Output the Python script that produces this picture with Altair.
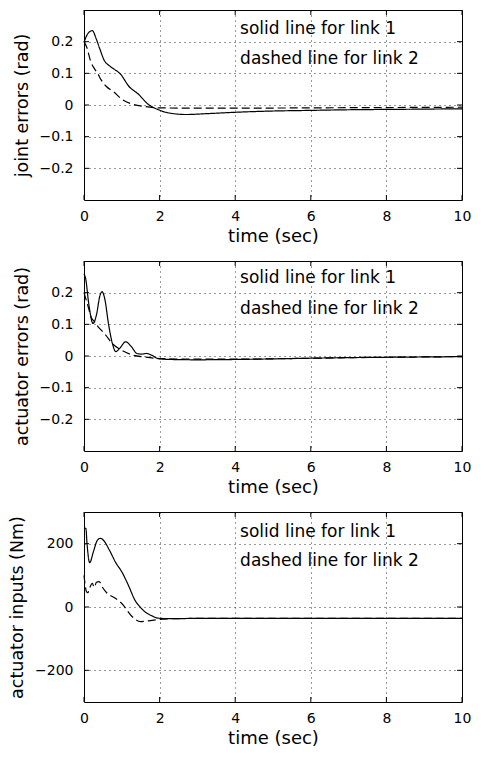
import altair as alt
import pandas as pd

# ---------------- data ----------------
t1_solid = [0, 0.1, 0.22, 0.32, 0.41, 0.54, 0.67, 0.8, 0.97, 1.18, 1.44, 1.7, 1.95, 2.2, 2.7, 3.3, 4.2, 5, 6, 7, 8, 9, 10]
v1_solid = [0.198, 0.225, 0.235, 0.21, 0.18, 0.14, 0.124, 0.113, 0.097, 0.06, 0.034, 0.002, -0.014, -0.024, -0.03,
            -0.027, -0.022, -0.019, -0.017, -0.015, -0.014, -0.013, -0.012]
t1_dash = [0, 0.08, 0.17, 0.28, 0.36, 0.45, 0.58, 0.8, 1.0, 1.27, 1.63, 2.0, 3, 4, 6, 8, 10]
v1_dash = [0.2, 0.18, 0.14, 0.114, 0.1, 0.08, 0.06, 0.04, 0.018, 0.003, -0.005, -0.009, -0.01, -0.01, -0.009,
           -0.008, -0.007]

t2_solid = [0, 0.05, 0.12, 0.24, 0.33, 0.42, 0.48, 0.55, 0.65, 0.75, 0.84, 0.95, 1.1, 1.25, 1.4, 1.52, 1.65, 1.8,
            1.95, 2.3, 3, 4, 5, 6, 7, 8, 9, 10]
v2_solid = [0.26, 0.24, 0.17, 0.103, 0.13, 0.19, 0.203, 0.18, 0.1, 0.04, 0.014, 0.025, 0.045, 0.03, 0.008, 0.006,
            0.008, 0.002, -0.008, -0.011, -0.012, -0.011, -0.009, -0.007, -0.005, -0.004, -0.003, -0.002]
t2_dash = [0, 0.1, 0.2, 0.28, 0.37, 0.47, 0.57, 0.75, 0.97, 1.26, 1.6, 2.0, 3, 4, 6, 8, 10]
v2_dash = [0.2, 0.16, 0.12, 0.108, 0.093, 0.08, 0.067, 0.039, 0.02, 0.004, -0.003, -0.008, -0.01, -0.01, -0.007,
           -0.004, -0.002]

t3_solid = [0, 0.05, 0.08, 0.15, 0.25, 0.35, 0.43, 0.52, 0.67, 0.84, 1.01, 1.18, 1.35, 1.5, 1.61, 1.8, 1.95, 2.3,
            3, 4, 6, 8, 10]
v3_solid = [250, 248, 200, 140, 175, 210, 217, 210, 180, 140, 109, 67, 21, -2, -15, -28, -35, -37, -36, -36, -36,
            -36, -36]
t3_dash = [0, 0.03, 0.06, 0.1, 0.15, 0.22, 0.27, 0.33, 0.4, 0.5, 0.6, 0.85, 1.0, 1.27, 1.5, 1.8, 2.1, 3, 4, 6, 8, 10]
v3_dash = [100, 70, 50, 45, 60, 75, 62, 78, 80, 60, 45, 26, 11, -30, -46, -42, -38, -36, -36, -36, -36, -36]

y_titles = ["joint errors (rad)", "actuator errors (rad)", "actuator inputs (Nm)"]
y_domains = [[-0.3, 0.3], [-0.3, 0.3], [-300, 300]]
y_ticks = [[-0.2, -0.1, 0, 0.1, 0.2], [-0.2, -0.1, 0, 0.1, 0.2], [-200, 0, 200]]
x_ticks = [0, 2, 4, 6, 8, 10]
x_title = "time (sec)"

note_labels = ["solid line for link 1", "dashed line for link 2"]
note_x = [4.13, 4.13]
note_y = [[0.224, 0.129], [0.229, 0.134], [222, 129]]

links = ["link 1", "link 2"]

FONT = "DejaVu Sans"
W, H = 378, 190


def make_df(ts, vs, tds, vds):
    return pd.DataFrame({
        "t": list(ts) + list(tds),
        "v": list(vs) + list(vds),
        "link": [links[0]] * len(ts) + [links[1]] * len(tds),
    })


series = [
    make_df(t1_solid, v1_solid, t1_dash, v1_dash),
    make_df(t2_solid, v2_solid, t2_dash, v2_dash),
    make_df(t3_solid, v3_solid, t3_dash, v3_dash),
]


def panel(i):
    xs = alt.Scale(domain=[0, 10], nice=False)
    ys = alt.Scale(domain=y_domains[i], nice=False, zero=False)
    xax = alt.Axis(values=x_ticks, title=x_title, format="~r", labelFlush=False)
    yax = alt.Axis(values=y_ticks[i], title=y_titles[i], format="~r")

    lines = alt.Chart(series[i]).mark_line(
        color="black", strokeWidth=1.2, interpolate="monotone"
    ).encode(
        x=alt.X("t:Q", scale=xs, axis=xax),
        y=alt.Y("v:Q", scale=ys, axis=yax),
        strokeDash=alt.StrokeDash("link:N", scale=alt.Scale(domain=links, range=[[1, 0], [8, 4]]), legend=None),
        detail="link:N",
    )

    notes = alt.Chart(pd.DataFrame({"t": note_x, "v": note_y[i], "label": note_labels})).mark_text(
        align="left", baseline="alphabetic", font=FONT, fontSize=17, color="black"
    ).encode(x=alt.X("t:Q", scale=xs), y=alt.Y("v:Q", scale=ys), text="label:N")

    ytk = pd.DataFrame({"v": y_ticks[i]})
    xtk = pd.DataFrame({"t": x_ticks})
    tk_l = alt.Chart(ytk).mark_rule(color="black").encode(y=alt.Y("v:Q", scale=ys), x=alt.value(0), x2=alt.value(5))
    tk_r = alt.Chart(ytk).mark_rule(color="black").encode(y=alt.Y("v:Q", scale=ys), x=alt.value(W - 5), x2=alt.value(W))
    tk_b = alt.Chart(xtk).mark_rule(color="black").encode(x=alt.X("t:Q", scale=xs), y=alt.value(H), y2=alt.value(H - 5))
    tk_t = alt.Chart(xtk).mark_rule(color="black").encode(x=alt.X("t:Q", scale=xs), y=alt.value(0), y2=alt.value(5))

    return alt.layer(tk_l, tk_r, tk_b, tk_t, lines, notes).properties(width=W, height=H)


chart = alt.vconcat(panel(0), panel(1), panel(2), spacing=14).properties(
    padding={"left": 0, "top": 1, "right": 0, "bottom": 0}
).configure_axis(
    grid=True, gridColor="black", gridDash=[1, 4], gridOpacity=0.8, gridWidth=1,
    ticks=False, tickSize=0, domain=False,
    labelFont=FONT, labelFontSize=14, labelColor="black", labelPadding=9,
    titleFont=FONT, titleFontSize=18, titleFontWeight="normal", titleColor="black", titlePadding=4,
).configure_axisY(titleFontSize=17.5, titlePadding=8, labelPadding=11).configure_view(stroke="black", strokeWidth=1)

chart.save("out.html", embed_options={"renderer": "svg", "actions": False})
